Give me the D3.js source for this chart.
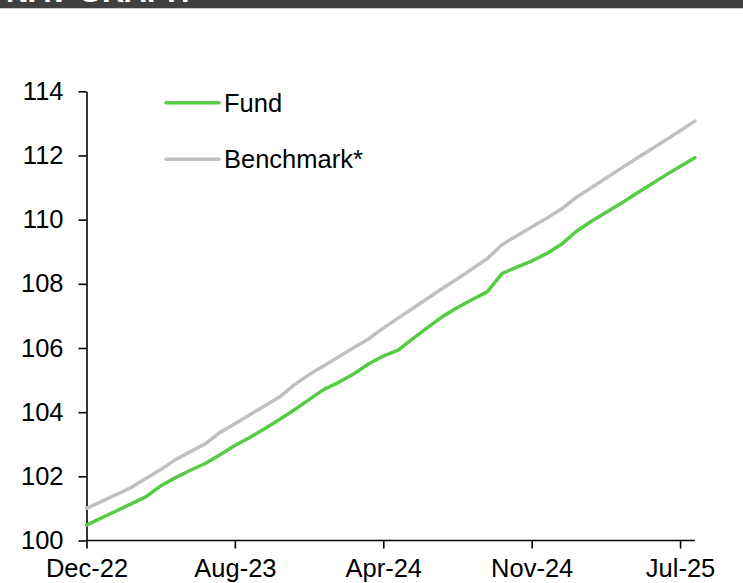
<!DOCTYPE html>
<html>
<head>
<meta charset="utf-8">
<script src="https://cdn.jsdelivr.net/npm/d3@7"></script>
<style>
  body { margin: 0; background: #fff; }
  svg { display: block; font-family: "Liberation Sans", Arial, sans-serif; }
</style>
</head>
<body>
<script>
'use strict'

// x labels sit every 10 samples
let tickIdx = [0, 10, 20, 30, 40]
let tickLabels = ["Dec-22", "Aug-23", "Apr-24", "Nov-24", "Jul-25"]
let yTicks = [100, 102, 104, 106, 108, 110, 112, 114]

let fund = [100.48, 100.70, 100.92, 101.14, 101.36, 101.70, 101.96, 102.19, 102.40, 102.67,
            102.96, 103.21, 103.48, 103.77, 104.07, 104.39, 104.71, 104.93, 105.19, 105.50,
            105.75, 105.93, 106.29, 106.64, 106.98, 107.26, 107.51, 107.75, 108.32, 108.52,
            108.71, 108.94, 109.23, 109.63, 109.94, 110.22, 110.50, 110.80, 111.09, 111.38,
            111.66, 111.93]

let bench = [101.00, 101.21, 101.43, 101.65, 101.93, 102.21, 102.52, 102.77, 103.01, 103.37,
             103.64, 103.92, 104.19, 104.47, 104.85, 105.17, 105.45, 105.73, 106.01, 106.28,
             106.62, 106.93, 107.24, 107.55, 107.86, 108.16, 108.47, 108.78, 109.22, 109.50,
             109.77, 110.04, 110.33, 110.69, 110.99, 111.29, 111.59, 111.89, 112.18, 112.47,
             112.77, 113.07]

let seriesNames = ["Fund", "Benchmark*"]
let seriesColors = ["#55cc44", "#c0c0c0"]

let width = 743
let height = 583
let x0 = 86.5, x1 = 694.9
let yTop = 91.3, yBot = 540.5

let svg = d3.select("body").append("svg")
            .attr("width", width)
            .attr("height", height)

// header bar, title mostly cut off
svg.append("rect")
   .attr("x", 0).attr("y", 0)
   .attr("width", width).attr("height", 8)
   .attr("fill", "#404040")
svg.append("line")
   .attr("x1", 0).attr("x2", width)
   .attr("y1", 8.5).attr("y2", 8.5)
   .attr("stroke", "#c8c8c8")
   .attr("stroke-width", 1)
svg.append("text")
   .attr("x", 6).attr("y", 2)
   .attr("fill", "#fff")
   .style("font-weight", "bold")
   .style("font-size", "31px")
   .text("NAV GRAPH")

let xscale = d3.scaleLinear()
               .domain([0, fund.length - 1])
               .range([x0, x1])

let yscale = d3.scaleLinear()
               .domain([100, 114])
               .range([yBot, yTop])

let y_axis = d3.axisLeft(yscale)
               .tickValues(yTicks)
               .tickFormat(d3.format("d"))
               .tickSize(8)
               .tickSizeOuter(0)
               .tickPadding(15)

let x_axis = d3.axisBottom(xscale)
               .tickValues(tickIdx)
               .tickFormat((d, i) => tickLabels[i])
               .tickSize(8)
               .tickSizeOuter(0)
               .tickPadding(10)

let gy = svg.append("g")
            .attr("transform", "translate(" + x0 + ",0)")
            .call(y_axis)

let gx = svg.append("g")
            .attr("transform", "translate(0," + yBot + ")")
            .call(x_axis)

// stretch x axis line to the right end of the data
gx.select(".domain").attr("d", "M" + x0 + ",0H" + x1)

svg.selectAll(".domain, .tick line")
   .attr("stroke", "#000")
   .attr("stroke-width", 1.6)
svg.selectAll(".tick text")
   .attr("fill", "#000")
   .style("font-size", "25.5px")
   .style("font-family", "'Liberation Sans', Arial, sans-serif")

let line = d3.line()
             .x((d, i) => xscale(i))
             .y(d => yscale(d))

let series = [bench, fund]
let colors = [seriesColors[1], seriesColors[0]]

svg.selectAll("path.series")
   .data(series)
   .enter()
   .append("path")
   .attr("class", "series")
   .attr("d", line)
   .attr("fill", "none")
   .attr("stroke", (d, i) => colors[i])
   .attr("stroke-width", 3.5)
   .attr("stroke-linejoin", "round")
   .attr("stroke-linecap", "round")

// legend
let legY = [102.7, 159.3]
let leg = svg.selectAll("g.leg")
             .data(seriesNames)
             .enter()
             .append("g")
             .attr("class", "leg")
             .attr("transform", (d, i) => "translate(0," + legY[i] + ")")

leg.append("line")
   .attr("x1", 166).attr("x2", 219)
   .attr("stroke", (d, i) => seriesColors[i])
   .attr("stroke-width", 3.5)
   .attr("stroke-linecap", "round")

leg.append("text")
   .attr("x", 224)
   .attr("y", 9)
   .style("font-size", "25.5px")
   .attr("fill", "#000")
   .text(d => d)
</script>
</body>
</html>
